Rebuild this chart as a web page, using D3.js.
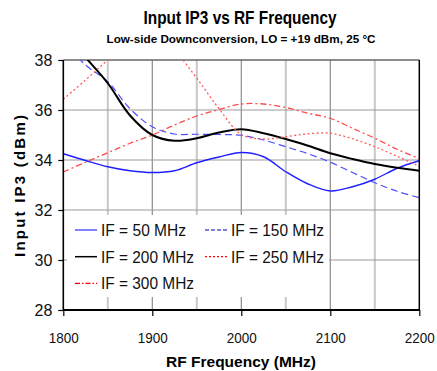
<!DOCTYPE html>
<html><head><meta charset="utf-8">
<script src="https://cdn.jsdelivr.net/npm/d3@7"></script>
<style>body{margin:0;background:#fff}svg{display:block}text{font-family:"Liberation Sans",Arial,sans-serif}</style>
</head><body>
<script>
const freqs = [1800,1825,1850,1875,1900,1925,1950,1975,2000,2025,2050,2075,2100,2125,2150,2175,2200];
const if50  = [34.25,33.98,33.73,33.57,33.5,33.57,33.89,34.12,34.3,34.13,33.53,33.04,32.76,32.93,33.23,33.67,33.97];
const if150 = [38.75,37.8,37.13,36.05,35.33,35.04,35.03,35.02,34.99,34.8,34.53,34.25,33.91,33.5,33.09,32.75,32.49];
const if200 = [39.1,38.1,37.07,35.78,35.0,34.77,34.87,35.1,35.23,35.07,34.84,34.57,34.27,34.04,33.84,33.69,33.57];
const if250 = [36.43,37.2,38.0,38.75,39.2,38.4,37.27,36.05,35.02,34.84,34.93,35.05,35.07,34.85,34.53,34.15,33.75];
const if300 = [33.52,33.91,34.29,34.67,35.0,35.4,35.76,36.02,36.24,36.24,36.1,35.87,35.67,35.27,34.87,34.43,34.05];
const xTicks = [1800,1900,2000,2100,2200];
const xMinor = [1850,1950,2050,2150];
const yTicks = [28,30,32,34,36,38];
const seriesNames = ["IF = 50 MHz","IF = 150 MHz","IF = 200 MHz","IF = 250 MHz","IF = 300 MHz"];

const W=437,H=371;
const L=63.3,R=419.3,T=60,B=310;
const svg=d3.select("body").append("svg").attr("width",W).attr("height",H);
const x=d3.scaleLinear().domain([1800,2200]).range([L,R]);
const y=d3.scaleLinear().domain([28,38]).range([B,T]);

// grid
svg.append("g").selectAll("line").data(xMinor).join("line")
  .attr("x1",d=>x(d)).attr("x2",d=>x(d)).attr("y1",T).attr("y2",B)
  .attr("stroke","#c8c8c8").attr("stroke-width",2);
svg.append("g").selectAll("line").data(xTicks.slice(1,-1)).join("line")
  .attr("x1",d=>x(d)).attr("x2",d=>x(d)).attr("y1",T).attr("y2",B)
  .attr("stroke","#8c8c8c").attr("stroke-width",1.2);
svg.append("g").selectAll("line").data(yTicks.slice(1,-1)).join("line")
  .attr("x1",L).attr("x2",R).attr("y1",d=>y(d)).attr("y2",d=>y(d))
  .attr("stroke","#999").attr("stroke-width",1.2);
svg.append("line").attr("x1",L).attr("x2",R).attr("y1",T).attr("y2",T).attr("stroke","#666").attr("stroke-width",1.5);

// clip
svg.append("defs").append("clipPath").attr("id","c").append("rect")
  .attr("x",L).attr("y",T).attr("width",R-L).attr("height",B-T);

const line=d3.line().x((d,i)=>x(freqs[i])).y(d=>y(d)).curve(d3.curveCatmullRom.alpha(0.5));
const styles=[
  {data:if50, color:"#1f1fff", w:1.4, dash:null, lc:"#3030ff"},
  {data:if150,color:"#4f4fff", w:1.2, dash:"7,4", lc:"#0000c0"},
  {data:if200,color:"#000", w:2, dash:null, lc:"#000"},
  {data:if250,color:"#ff5a5a", w:1.3, dash:"2,2.5", lc:"#ff0000"},
  {data:if300,color:"#ff4a4a", w:1.3, dash:"6,3,2,3", lc:"#ff0000"}
];
const g=svg.append("g").attr("clip-path","url(#c)");
styles.forEach(s=>{
  g.append("path").attr("d",line(s.data)).attr("fill","none")
    .attr("stroke",s.color).attr("stroke-width",s.w).attr("stroke-dasharray",s.dash);
});

// legend
svg.append("rect").attr("x",67).attr("y",215).attr("width",262).attr("height",82).attr("fill","#fff");
const legPos=[[75,230],[205,230],[75,256.7],[205,256.7],[75,283.3]];
styles.forEach((s,i)=>{
  const [lx,ly]=legPos[i];
  svg.append("line").attr("x1",lx).attr("x2",lx+22).attr("y1",ly).attr("y2",ly)
    .attr("stroke",s.lc).attr("stroke-width",s===styles[2]?1.5:1.2).attr("stroke-dasharray",s.dash?(i==1?"4,2":i==3?"2,2":"5,2,1.5,2"):null);
  const t=svg.append("text").attr("x",lx+26).attr("y",ly+6).attr("font-size",16.5).attr("fill","#111").text(seriesNames[i]);
  t.attr("textLength", seriesNames[i].length===11?85:93).attr("lengthAdjust","spacingAndGlyphs");
});

// axes
const xa=svg.append("g").attr("transform",`translate(0,${B})`).call(d3.axisBottom(x).tickValues(xTicks).tickSize(6).tickFormat(d3.format("d")));
const ya=svg.append("g").attr("transform",`translate(${L},0)`).call(d3.axisLeft(y).tickValues(yTicks).tickSize(5).tickFormat(d3.format("d")));
[xa,ya].forEach(a=>{a.select(".domain").remove();a.selectAll("line").attr("stroke","#000").attr("stroke-width",1.2);
  a.selectAll("text").attr("font-family",'"Liberation Sans",Arial,sans-serif').attr("fill","#111");});
xa.selectAll("text").attr("font-size",15.5).attr("dy","1.55em").attr("textLength",30).attr("lengthAdjust","spacingAndGlyphs");
ya.selectAll("text").attr("font-size",16).attr("x",-11).attr("dy","0.35em");
svg.append("line").attr("x1",L).attr("x2",L).attr("y1",T).attr("y2",B+0.8).attr("stroke","#000").attr("stroke-width",1.6);
svg.append("line").attr("x1",R).attr("x2",R).attr("y1",T).attr("y2",B).attr("stroke","#000").attr("stroke-width",1.5);
svg.append("line").attr("x1",L).attr("x2",R+0.7).attr("y1",B).attr("y2",B).attr("stroke","#000").attr("stroke-width",2);

// titles
svg.append("text").attr("x",240).attr("y",24).attr("text-anchor","middle").attr("font-size",17.5).attr("font-weight","bold")
  .attr("textLength",193).attr("lengthAdjust","spacingAndGlyphs").text("Input IP3 vs RF Frequency");
svg.append("text").attr("x",241).attr("y",43.3).attr("text-anchor","middle").attr("font-size",10.3).attr("font-weight","bold")
  .attr("textLength",269).attr("lengthAdjust","spacingAndGlyphs").text("Low-side Downconversion, LO = +19 dBm, 25 °C");
svg.append("text").attr("x",241).attr("y",366.5).attr("text-anchor","middle").attr("font-size",15.5).attr("font-weight","bold")
  .attr("textLength",150).attr("lengthAdjust","spacingAndGlyphs").text("RF Frequency (MHz)");
svg.append("text").attr("transform","translate(25,186) rotate(-90)").attr("text-anchor","middle").attr("font-size",15).attr("font-weight","bold")
  .attr("textLength",142).attr("lengthAdjust","spacing").text("Input IP3 (dBm)");
</script>
</body></html>
